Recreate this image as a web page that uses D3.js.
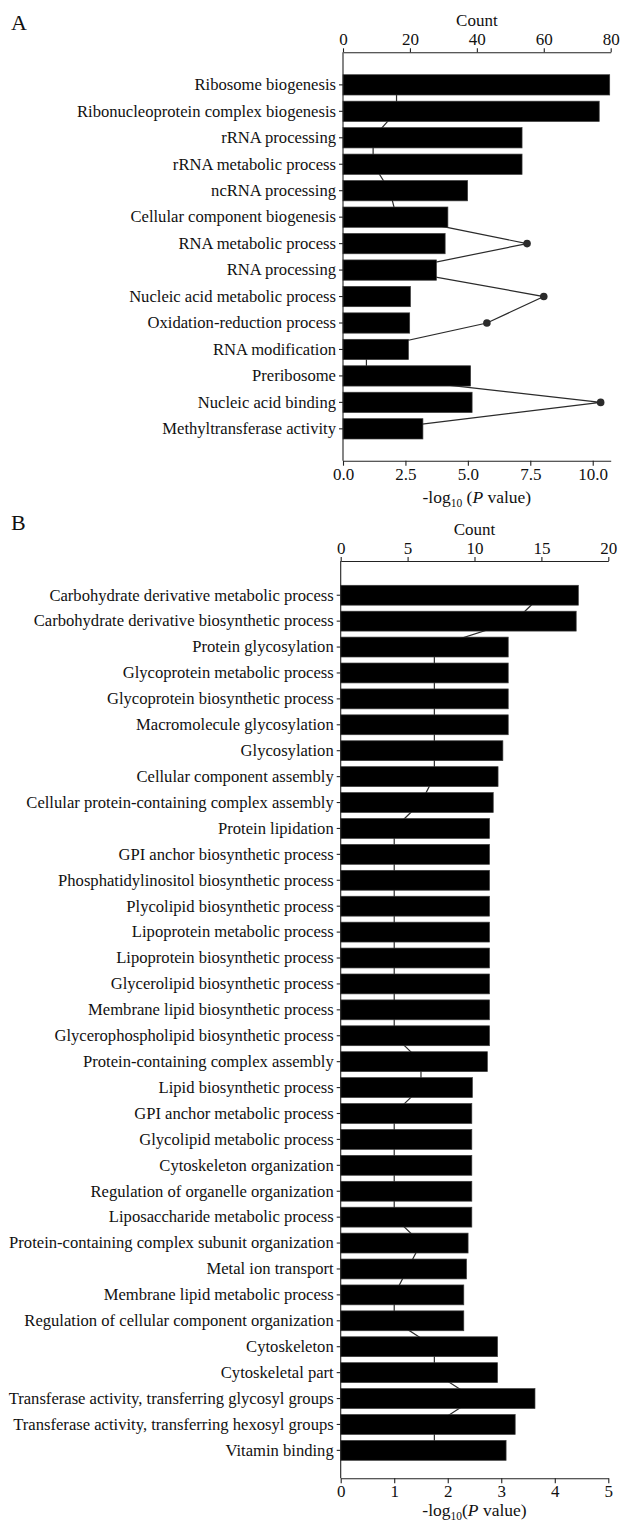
<!DOCTYPE html>
<style>
  body {
    margin: 0;
    background: #fff;
  }

  svg text {
    font-family: "Liberation Serif", "Times New Roman", serif;
    fill: #111;
  }

  .axis path,
  .axis line {
    fill: none;
    stroke: #222;
    stroke-width: 1.1px;
  }

  .bar {
    fill: #000;
    stroke: #3a3a3a;
    stroke-width: 0.7px;
  }

  .countLine {
    fill: none;
    stroke: #2b2b2b;
    stroke-width: 1.2px;
  }
</style>

<body>
  <div id="svg_frame"></div>
</body>
<script src="https://cdnjs.cloudflare.com/ajax/libs/d3/7.8.5/d3.min.js"></script>

<script>
  // Panel A: GO terms, -log10(P) bars, gene count line
  var termsA = ["Ribosome biogenesis", "Ribonucleoprotein complex biogenesis", "rRNA processing",
    "rRNA metabolic process", "ncRNA processing", "Cellular component biogenesis",
    "RNA metabolic process", "RNA processing", "Nucleic acid metabolic process",
    "Oxidation-reduction process", "RNA modification", "Preribosome",
    "Nucleic acid binding", "Methyltransferase activity"];
  var logPA = [10.68, 10.26, 7.17, 7.17, 4.99, 4.20, 4.09, 3.74, 2.70, 2.67, 2.62, 5.11, 5.17, 3.20];
  var countA = [16, 16, 9, 9, 14, 16, 55, 16, 60, 43, 7, 7, 77, 12];
  var countTicksA = [0, 20, 40, 60, 80];
  var logPTicksA = [0, 2.5, 5, 7.5, 10];

  // Panel B
  var termsB = ["Carbohydrate derivative metabolic process", "Carbohydrate derivative biosynthetic process",
    "Protein glycosylation", "Glycoprotein metabolic process", "Glycoprotein biosynthetic process",
    "Macromolecule glycosylation", "Glycosylation", "Cellular component assembly",
    "Cellular protein-containing complex assembly", "Protein lipidation", "GPI anchor biosynthetic process",
    "Phosphatidylinositol biosynthetic process", "Plycolipid biosynthetic process",
    "Lipoprotein metabolic process", "Lipoprotein biosynthetic process", "Glycerolipid biosynthetic process",
    "Membrane lipid biosynthetic process", "Glycerophospholipid biosynthetic process",
    "Protein-containing complex assembly", "Lipid biosynthetic process", "GPI anchor metabolic process",
    "Glycolipid metabolic process", "Cytoskeleton organization", "Regulation of organelle organization",
    "Liposaccharide metabolic process", "Protein-containing complex subunit organization",
    "Metal ion transport", "Membrane lipid metabolic process",
    "Regulation of cellular component organization", "Cytoskeleton", "Cytoskeletal part",
    "Transferase activity, transferring glycosyl groups", "Transferase activity, transferring hexosyl groups",
    "Vitamin binding"];
  var logPB = [4.44, 4.40, 3.13, 3.13, 3.13, 3.13, 3.03, 2.94, 2.85, 2.78, 2.78, 2.78, 2.78, 2.78,
    2.78, 2.78, 2.78, 2.78, 2.74, 2.46, 2.45, 2.45, 2.45, 2.45, 2.45, 2.38, 2.35, 2.30, 2.30,
    2.93, 2.93, 3.63, 3.26, 3.09];
  var countB = [15, 13, 7, 7, 7, 7, 7, 7, 6, 4, 4, 4, 4, 4, 4, 4, 4, 4, 6, 6, 4, 4, 4, 4, 4, 6, 5,
    4, 4, 7, 7, 10, 7, 7];
  var countTicksB = [0, 5, 10, 15, 20];
  var logPTicksB = [0, 1, 2, 3, 4, 5];

  var width = 621,
    height = 1521,
    fontSize = 16.6,
    tickFont = 17;

  var svg = d3.select("#svg_frame").append("svg")
    .attr("width", width)
    .attr("height", height);

  function drawPanel(p) {
    var g = svg.append("g");

    var x = d3.scaleLinear().domain([0, p.logMax]).range([p.x0, p.x1]);
    var xc = d3.scaleLinear().domain([0, p.countMax]).range([p.x0, p.x1]);
    var y = d3.scaleBand().domain(p.terms).range([p.bandTop, p.bandBottom]).padding(0.233);

    var rows = p.terms.map(function (t, i) {
      return { term: t, logP: p.logP[i], count: p.count[i] };
    });

    // count line + dots sit behind the bars
    var line = d3.line()
      .x(function (d) { return xc(d.count); })
      .y(function (d) { return y(d.term) + y.bandwidth() / 2; });

    g.append("path")
      .datum(rows)
      .attr("class", "countLine")
      .attr("d", line);

    g.selectAll(".dot")
      .data(rows)
      .enter().append("circle")
      .attr("class", "dot")
      .attr("cx", function (d) { return xc(d.count); })
      .attr("cy", function (d) { return y(d.term) + y.bandwidth() / 2; })
      .attr("r", 3.8)
      .attr("fill", "#2b2b2b");

    g.selectAll(".bar")
      .data(rows)
      .enter().append("rect")
      .attr("class", "bar")
      .attr("x", x(0))
      .attr("y", function (d) { return y(d.term); })
      .attr("width", function (d) { return x(d.logP) - x(0); })
      .attr("height", y.bandwidth());

    // top axis (count)
    g.append("g")
      .attr("class", "axis")
      .attr("transform", "translate(0," + p.topY + ")")
      .call(d3.axisTop(xc).tickValues(p.countTicks).tickSizeInner(4).tickSizeOuter(0).tickPadding(3))
      .call(function (a) { a.selectAll("text").style("font-size", tickFont + "px"); });

    // bottom axis (-log10 P)
    g.append("g")
      .attr("class", "axis")
      .attr("transform", "translate(0," + p.bottomY + ")")
      .call(d3.axisBottom(x).tickValues(p.logTicks).tickFormat(d3.format(p.logFmt))
        .tickSizeInner(5).tickSizeOuter(0).tickPadding(2))
      .call(function (a) { a.selectAll("text").style("font-size", tickFont + "px"); });

    // left axis with term labels
    var left = g.append("g")
      .attr("class", "axis")
      .attr("transform", "translate(" + p.x0 + ",0)")
      .call(d3.axisLeft(y).tickSizeInner(4).tickSizeOuter(0).tickPadding(3));
    left.select(".domain").remove();
    left.selectAll("text").style("font-size", fontSize + "px");

    g.append("line")
      .attr("x1", p.x0).attr("x2", p.x0)
      .attr("y1", p.topY).attr("y2", p.bottomY)
      .attr("stroke", "#222")
      .attr("stroke-width", 1.1);

    // labels
    g.append("text")
      .attr("x", (p.x0 + p.x1) / 2)
      .attr("y", p.countLabelY)
      .attr("text-anchor", "middle")
      .style("font-size", tickFont + "px")
      .text("Count");

    var t = g.append("text")
      .attr("x", (p.x0 + p.x1) / 2)
      .attr("y", p.titleY)
      .attr("text-anchor", "middle")
      .style("font-size", "17.5px");
    t.append("tspan").text("-log");
    t.append("tspan").attr("dy", 4).style("font-size", "11.5px").text("10");
    t.append("tspan").attr("dy", -4).text(p.gap + "(");
    t.append("tspan").style("font-style", "italic").text("P");
    t.append("tspan").text(" value)");

    g.append("text")
      .attr("x", 11)
      .attr("y", p.letterY)
      .style("font-size", "22px")
      .text(p.letter);
  }

  drawPanel({
    letter: "A", letterY: 30,
    terms: termsA, logP: logPA, count: countA,
    countTicks: countTicksA, logTicks: logPTicksA, logFmt: ".1f",
    logMax: 10.72, countMax: 80,
    x0: 343, x1: 610.7,
    topY: 52.3, bottomY: 460.7,
    bandTop: 68.55, bandBottom: 445.15,
    countLabelY: 26, titleY: 503, gap: " "
  });

  drawPanel({
    letter: "B", letterY: 530,
    terms: termsB, logP: logPB, count: countB,
    countTicks: countTicksB, logTicks: logPTicksB, logFmt: "d",
    logMax: 5, countMax: 20,
    x0: 340.7, x1: 608.3,
    topY: 561, bottomY: 1478.3,
    bandTop: 579.25, bandBottom: 1466.35,
    countLabelY: 535, titleY: 1516, gap: ""
  });
</script>
